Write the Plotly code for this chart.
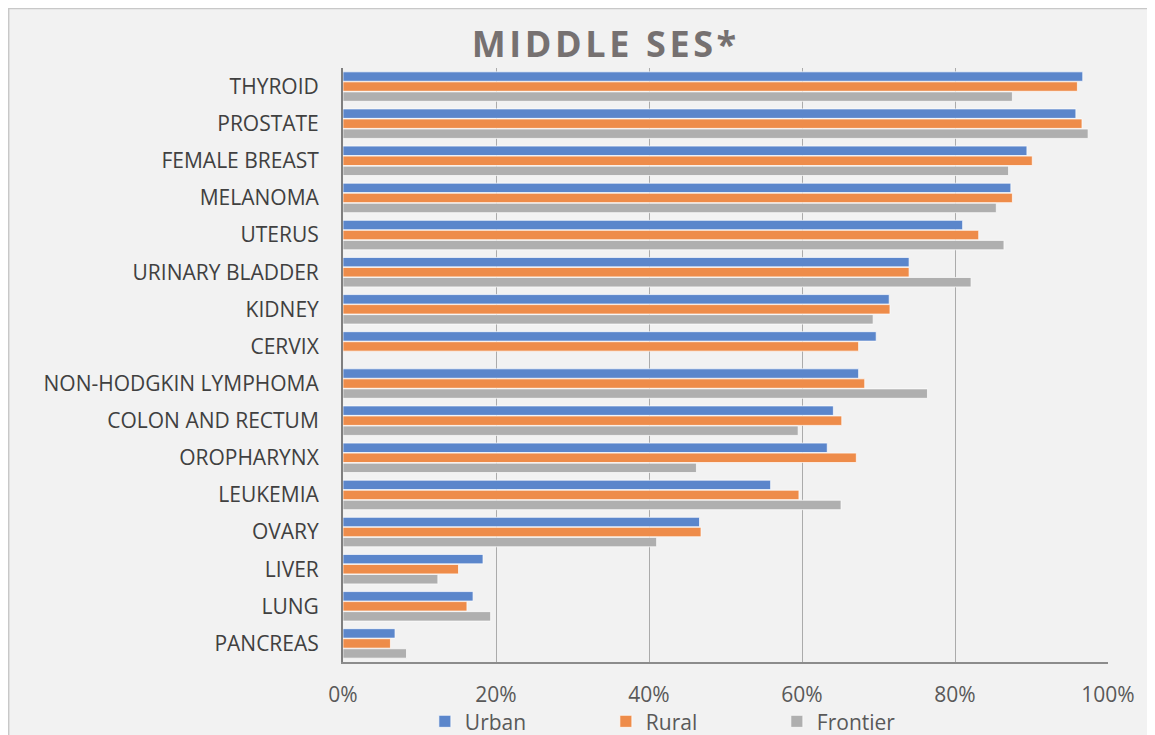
"""
Middle SES survival by cancer site, urban / rural / frontier.
Horizontal grouped bar chart in the style of an Excel chart.
"""

import plotly.graph_objects as go

# categories listed top to bottom
sites = ["THYROID", "PROSTATE", "FEMALE BREAST", "MELANOMA", "UTERUS",
         "URINARY BLADDER", "KIDNEY", "CERVIX", "NON-HODGKIN LYMPHOMA",
         "COLON AND RECTUM", "OROPHARYNX", "LEUKEMIA", "OVARY", "LIVER",
         "LUNG", "PANCREAS"]

urban = [0.967, 0.958, 0.894, 0.873, 0.810, 0.740, 0.714, 0.697, 0.674,
         0.641, 0.633, 0.559, 0.466, 0.183, 0.170, 0.068]
rural = [0.960, 0.966, 0.901, 0.875, 0.831, 0.740, 0.715, 0.674, 0.682,
         0.652, 0.671, 0.596, 0.468, 0.151, 0.162, 0.062]
frontier = [0.875, 0.974, 0.870, 0.854, 0.864, 0.821, 0.693, None, 0.764,
            0.595, 0.462, 0.651, 0.410, 0.124, 0.193, 0.083]

x_ticks = [0, 0.2, 0.4, 0.6, 0.8, 1.0]
title_text = "MIDDLE SES*"

FONT = "Open Sans"

fig = go.Figure()
series = [("Urban", urban, "#5B86CB", 136),
          ("Rural", rural, "#EE8C4A", 126),
          ("Frontier", frontier, "#AFAFAF", 90)]
for name, vals, color, lw in series:
    fig.add_trace(go.Bar(
        y=sites, x=vals, name=name, orientation="h",
        marker=dict(color=color, line=dict(color="rgba(255,255,255,0.7)", width=1)),
        legendwidth=lw,
    ))

# thin border round the chart area
fig.add_shape(type="rect", xref="paper", yref="paper",
              x0=-0.437, x1=1.2, y0=-0.3, y1=1.1,
              fillcolor="rgba(0,0,0,0)", line=dict(color="#C8C8C8", width=1.5),
              layer="below")

# letter-spaced title, like the Excel chart style
spaced_title = "\u200a".join(title_text)

fig.update_layout(
    width=1155, height=735,
    margin=dict(l=335, r=55, t=60, b=81),
    paper_bgcolor="#F2F2F2",
    plot_bgcolor="#F2F2F2",
    barmode="group",
    bargap=0.19,
    bargroupgap=0.06,
    font=dict(family=FONT, color="#595959"),
    title=dict(text="<b>" + spaced_title + "</b>", x=0.516, xanchor="center",
               y=0.95, yanchor="middle",
               font=dict(family=FONT, size=36, color="#767171")),
    showlegend=True,
    legend=dict(orientation="h", x=0.107, xanchor="left",
                yref="container", y=0.029, yanchor="middle",
                font=dict(family=FONT, size=21, color="#595959"),
                bgcolor="rgba(0,0,0,0)", traceorder="normal"),
)

fig.update_xaxes(
    range=[0, 1], tickvals=x_ticks, tickformat=".0%",
    showgrid=True, gridcolor="#ABABAB", gridwidth=1,
    showline=True, linecolor="#8C8C8C", linewidth=1.5,
    zeroline=False, ticks="", ticklabelstandoff=13, automargin=False,
    tickfont=dict(family=FONT, size=21, color="#595959"),
)
fig.update_yaxes(
    autorange="reversed", showgrid=False,
    showline=True, linecolor="#7F7F7F", linewidth=2,
    ticks="", ticklabelstandoff=18, automargin=False,
    tickfont=dict(family=FONT, size=21, color="#404040"),
)

fig.write_html("out.html")
